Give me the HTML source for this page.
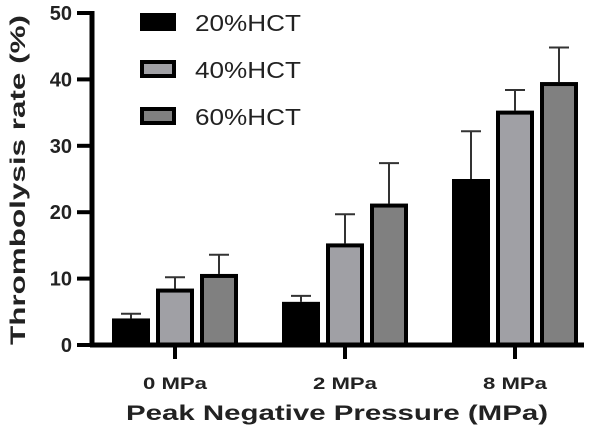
<!DOCTYPE html>
<html><head><meta charset="utf-8"><style>
body{margin:0;background:#fff;}
svg{display:block;font-family:"Liberation Sans",Arial,sans-serif;}
</style></head><body>
<svg id="chart" width="600" height="430">
<g id="plot"></g>
</svg>
<script>
const categories = ["0 MPa","2 MPa","8 MPa"];
const seriesNames = ["20%HCT","40%HCT","60%HCT"];
const hct20 = [4.0, 6.5, 25.0];
const hct40 = [8.5, 15.3, 35.3];
const hct60 = [10.7, 21.3, 39.6];
const err20 = [0.7, 0.9, 7.2];
const err40 = [1.7, 4.4, 3.1];
const err60 = [2.9, 6.1, 5.2];
const yTicks = [0,10,20,30,40,50];

const NS="http://www.w3.org/2000/svg";
const g=document.getElementById('plot');
const y0=345, yTop=13, yMax=50;
const y=v=>y0-(v/yMax)*(y0-yTop);
const groupStart=112, groupStep=170, barW=38, barGap=44;
const fills=["#000","#a0a0a5","#808080"];
const vals=[hct20,hct40,hct60], errs=[err20,err40,err60];
function mk(t,a,p){const e=document.createElementNS(NS,t);for(const k in a)e.setAttribute(k,a[k]);(p||g).appendChild(e);return e;}

vals.forEach((s,si)=>s.forEach((v,ci)=>{
  const cx=groupStart+ci*groupStep+si*barGap+barW/2;
  const l=mk('line',{x1:cx,x2:cx,y1:y(v),y2:y(v+errs[si][ci]),stroke:'#333','stroke-width':2});
  
  
  const c=mk('line',{x1:cx-10,x2:cx+10,y1:y(v+errs[si][ci]),y2:y(v+errs[si][ci]),stroke:'#333','stroke-width':2});
  
  
}));
vals.forEach((s,si)=>s.forEach((v,ci)=>{
  const x=groupStart+ci*groupStep+si*barGap;
  const r=mk('rect',{x:x+2,y:y(v)+2,width:barW-4,height:y0-y(v)-2,fill:fills[si],stroke:'#000','stroke-width':4});
  
  
}));
let a=mk('line',{x1:92,x2:92,y1:yTop-2,y2:y0+2,stroke:'#000','stroke-width':5});


a=mk('line',{x1:90,x2:584,y1:y0,y2:y0,stroke:'#000','stroke-width':5});


yTicks.forEach(t=>{
  const tk=mk('line',{x1:77,x2:92,y1:y(t),y2:y(t),stroke:'#000','stroke-width':4});
  
  
  const tx=mk('text',{x:72,y:y(t)+7,'text-anchor':'end','font-size':20,'font-weight':'bold',fill:'#222'});
  tx.textContent=t;
  
  
});
categories.forEach((c,ci)=>{
  const cx=groupStart+ci*groupStep+barGap+barW/2;
  const tk=mk('line',{x1:cx,x2:cx,y1:y0,y2:y0+14,stroke:'#000','stroke-width':4});
  
  
  const tx=mk('text',{x:cx,y:389,'text-anchor':'middle','font-size':17,'font-weight':'bold',fill:'#222',textLength:64,lengthAdjust:'spacingAndGlyphs'});
  tx.textContent=c;
  
  
});
let t=mk('text',{x:337,y:420,'text-anchor':'middle','font-size':21,'font-weight':'bold',fill:'#222',textLength:422,lengthAdjust:'spacingAndGlyphs'});
t.textContent='Peak Negative Pressure (MPa)';


t=mk('text',{x:0,y:0,'text-anchor':'middle','font-size':21,'font-weight':'bold',fill:'#222',transform:'translate(25,180) rotate(-90)',textLength:330,lengthAdjust:'spacingAndGlyphs'});
t.textContent='Thrombolysis rate (%)';


seriesNames.forEach((n,si)=>{
  const ly=13+si*47;
  const r=mk('rect',{x:142,y:ly+2,width:32,height:14,fill:fills[si],stroke:'#000','stroke-width':4});
  
  
  const tx=mk('text',{x:195,y:ly+18,'font-size':23,fill:'#222',textLength:106,lengthAdjust:'spacingAndGlyphs'});
  tx.textContent=n;
  
  
});
</script>
</body></html>
